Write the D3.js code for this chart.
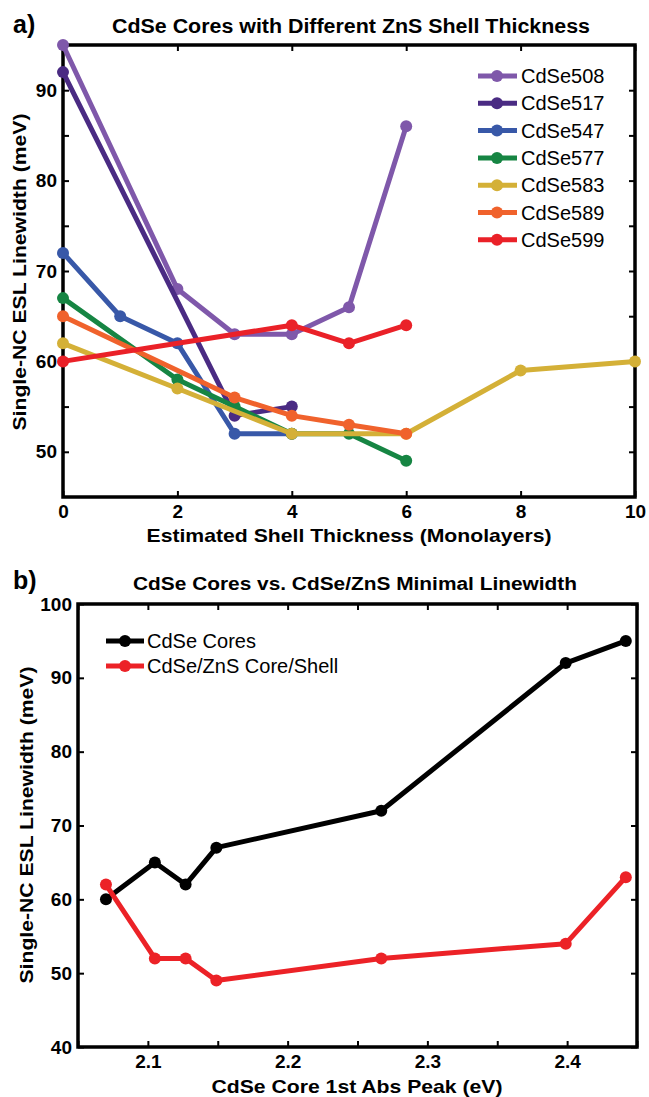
<!DOCTYPE html>
<meta charset="utf-8">
<style>
body { margin: 0; background: #fff; }
svg { display: block; font-family: "Liberation Sans", Arial, sans-serif; }
.frame { fill: none; stroke: #000; stroke-width: 3.5; }
.axis path { display: none; }
.axis line { stroke: #000; stroke-width: 2; }
.axis text { font-size: 19px; font-weight: bold; fill: #000; font-family: "Liberation Sans", Arial, sans-serif; }
.title { font-size: 20px; font-weight: bold; }
.panel { font-size: 25px; font-weight: bold; }
.label { font-size: 19px; font-weight: bold; }
.legend text { font-size: 20px; }
.series { fill: none; stroke-width: 5; stroke-linejoin: round; }
</style>
<svg width="649" height="1097"></svg>
<script src="https://d3js.org/d3.v7.min.js"></script>
<script>

// panel a) - linewidth vs shell thickness
var seriesNames = ["CdSe508", "CdSe517", "CdSe547", "CdSe577", "CdSe583", "CdSe589", "CdSe599"];
var x508 = [0, 2, 3, 4, 5, 6],        y508 = [95, 68, 63, 63, 66, 86];
var x517 = [0, 3, 4],                 y517 = [92, 54, 55];
var x547 = [0, 1, 2, 3, 4],           y547 = [72, 65, 62, 52, 52];
var x577 = [0, 2, 3, 4, 5, 6],        y577 = [67, 58, 55, 52, 52, 49];
var x583 = [0, 2, 4, 6, 8, 10],       y583 = [62, 57, 52, 52, 59, 60];
var x589 = [0, 3, 4, 5, 6],           y589 = [65, 56, 54, 53, 52];
var x599 = [0, 4, 5, 6],              y599 = [60, 64, 62, 64];
var shellTicks = [0, 2, 4, 6, 8, 10];
var widthTicksA = [50, 55, 60, 65, 70, 75, 80, 85, 90];

// panel b) - cores vs core/shell
var absPeak = [2.070, 2.105, 2.127, 2.149, 2.267, 2.399, 2.442];
var coreWidth = [60, 65, 62, 67, 72, 92, 95];
var coreShellWidth = [62, 52, 52, 49, 52, 54, 63];
var legendB = ["CdSe Cores", "CdSe/ZnS Core/Shell"];
var peakTicks = [2.05, 2.1, 2.15, 2.2, 2.25, 2.3, 2.35, 2.4, 2.45];
var widthTicksB = [40, 50, 60, 70, 80, 90, 100];

var colorsA = ["#7f58aa", "#4a2b83", "#3858a8", "#168543", "#d4b037", "#f0622c", "#ea2128"];
var colorsB = ["#000000", "#ec2227"];

var svg = d3.select("svg");

function frame(g, x, y, xTicks, yTicks, xFmt, yFmt) {
  var x0 = x.range()[0], x1 = x.range()[1], y0 = y.range()[0], y1 = y.range()[1];
  g.append("g").attr("class", "axis").attr("transform", "translate(0," + y0 + ")")
    .call(d3.axisBottom(x).tickValues(xTicks).tickSizeInner(-6).tickSizeOuter(0).tickPadding(8).tickFormat(xFmt));
  g.append("g").attr("class", "axis").attr("transform", "translate(0," + y1 + ")")
    .call(d3.axisTop(x).tickValues(xTicks).tickSizeInner(-6).tickSizeOuter(0).tickFormat(""));
  g.append("g").attr("class", "axis").attr("transform", "translate(" + x0 + ",0)")
    .call(d3.axisLeft(y).tickValues(yTicks).tickSizeInner(-6).tickSizeOuter(0).tickPadding(6).tickFormat(yFmt));
  g.append("g").attr("class", "axis").attr("transform", "translate(" + x1 + ",0)")
    .call(d3.axisRight(y).tickValues(yTicks).tickSizeInner(-6).tickSizeOuter(0).tickFormat(""));
  g.append("rect").attr("class", "frame")
    .attr("x", x0).attr("y", y1).attr("width", x1 - x0).attr("height", y0 - y1);
}

function drawSeries(g, x, y, xs, ys, color) {
  var pts = xs.map(function(d, i) { return [d, ys[i]]; });
  var line = d3.line().x(function(d) { return x(d[0]); }).y(function(d) { return y(d[1]); });
  g.append("path").attr("class", "series").attr("d", line(pts)).attr("stroke", color);
  g.selectAll(null).data(pts).enter().append("circle")
    .attr("cx", function(d) { return x(d[0]); })
    .attr("cy", function(d) { return y(d[1]); })
    .attr("r", 6).attr("fill", color);
}

// ---------- panel a
var xA = d3.scaleLinear().domain([0, 10]).range([63, 635]);
var yA = d3.scaleLinear().domain([45, 95]).range([497, 45]);
var gA = svg.append("g");

frame(gA, xA, yA, shellTicks, widthTicksA, d3.format("d"),
  function(d) { return d % 10 === 0 ? d : ""; });

var xsA = [x508, x517, x547, x577, x583, x589, x599];
var ysA = [y508, y517, y547, y577, y583, y589, y599];
xsA.forEach(function(xs, i) { drawSeries(gA, xA, yA, xs, ysA[i], colorsA[i]); });

var legA = gA.append("g").attr("class", "legend");
seriesNames.forEach(function(name, i) {
  var ly = 76 + i * 27.3;
  legA.append("line").attr("x1", 478).attr("x2", 517).attr("y1", ly).attr("y2", ly)
    .attr("stroke", colorsA[i]).attr("stroke-width", 5);
  legA.append("circle").attr("cx", 497).attr("cy", ly).attr("r", 6).attr("fill", colorsA[i]);
  legA.append("text").attr("x", 521).attr("y", ly + 7).text(name);
});

gA.append("text").attr("class", "panel").attr("x", 13).attr("y", 33).text("a)");
gA.append("text").attr("class", "title").attr("x", 351).attr("y", 33).attr("text-anchor", "middle")
  .attr("textLength", 478).attr("lengthAdjust", "spacingAndGlyphs")
  .text("CdSe Cores with Different ZnS Shell Thickness");
gA.append("text").attr("class", "label").attr("x", 349).attr("y", 542).attr("text-anchor", "middle")
  .attr("textLength", 405).attr("lengthAdjust", "spacingAndGlyphs")
  .text("Estimated Shell Thickness (Monolayers)");
gA.append("text").attr("class", "label").attr("text-anchor", "middle")
  .attr("transform", "translate(26,272) rotate(-90)")
  .attr("textLength", 317).attr("lengthAdjust", "spacingAndGlyphs")
  .text("Single-NC ESL Linewidth (meV)");

// ---------- panel b
var xB = d3.scaleLinear().domain([2.05, 2.45]).range([78, 637]);
var yB = d3.scaleLinear().domain([40, 100]).range([1047, 604]);
var gB = svg.append("g");

frame(gB, xB, yB, peakTicks, widthTicksB,
  function(d) { return Math.abs(d * 10 - Math.round(d * 10)) < 1e-6 ? d3.format(".1f")(d) : ""; },
  d3.format("d"));

drawSeries(gB, xB, yB, absPeak, coreWidth, colorsB[0]);
drawSeries(gB, xB, yB, absPeak, coreShellWidth, colorsB[1]);

var legB = gB.append("g").attr("class", "legend");
legendB.forEach(function(name, i) {
  var ly = 641 + i * 25;
  legB.append("line").attr("x1", 106).attr("x2", 144).attr("y1", ly).attr("y2", ly)
    .attr("stroke", colorsB[i]).attr("stroke-width", 5);
  legB.append("circle").attr("cx", 125).attr("cy", ly).attr("r", 6).attr("fill", colorsB[i]);
  legB.append("text").attr("x", 147).attr("y", ly + 7).text(name);
});

gB.append("text").attr("class", "panel").attr("x", 13).attr("y", 589).text("b)");
gB.append("text").attr("class", "title").attr("x", 355).attr("y", 590).attr("text-anchor", "middle")
  .attr("textLength", 444).attr("lengthAdjust", "spacingAndGlyphs")
  .style("font-size", "18px")
  .text("CdSe Cores vs. CdSe/ZnS Minimal Linewidth");
gB.append("text").attr("class", "label").attr("x", 357).attr("y", 1093).attr("text-anchor", "middle")
  .attr("textLength", 291).attr("lengthAdjust", "spacingAndGlyphs")
  .text("CdSe Core 1st Abs Peak (eV)");
gB.append("text").attr("class", "label").attr("text-anchor", "middle")
  .attr("transform", "translate(33,825) rotate(-90)")
  .attr("textLength", 317).attr("lengthAdjust", "spacingAndGlyphs")
  .text("Single-NC ESL Linewidth (meV)");

</script>
